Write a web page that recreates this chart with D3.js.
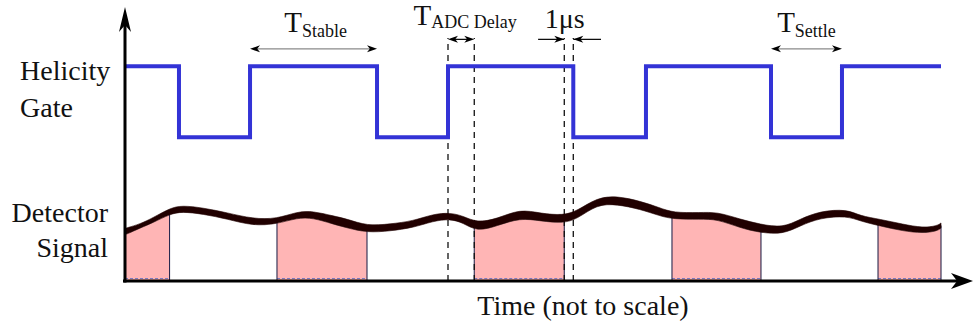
<!DOCTYPE html>
<html>
<head>
<meta charset="utf-8">
<script src="https://cdn.jsdelivr.net/npm/d3@7"></script>
<style>
  body { margin: 0; background: #fff; }
  text { font-family: "Liberation Serif", "Tinos", "DejaVu Serif", "Noto Serif", serif; fill: #111; }
</style>
</head>
<body>
<div id="chart"></div>
<script>
// time is in arbitrary units (not to scale), levels are arbitrary too
var gateEdges = [0, 6.35, 14.71, 29.65, 38.0, 52.74, 61.29, 76.0, 84.35, 96.0];
var gateStates = [1, 0, 1, 0, 1, 0, 1, 0, 1];
var gateHigh = 7.95, gateLow = 5.32;

var signalTime = [0, 0.24, 1.76, 3.29, 5.29, 6.71, 9.18, 12.0, 15.06, 17.88, 20.24, 22.12, 24.47, 26.12,
  28.47, 31.18, 33.88, 36.24, 38.24, 39.76, 41.41, 43.76, 46.47, 48.94, 51.53, 53.18, 55.53, 57.88,
  60.59, 62.94, 64.47, 67.65, 69.65, 72.35, 74.71, 77.41, 79.41, 81.76, 84.94, 86.47, 88.82, 91.53,
  93.88, 95.53, 96.0];
var signalTop = [1.95, 1.97, 2.11, 2.34, 2.70, 2.80, 2.71, 2.53, 2.30, 2.30, 2.57, 2.59, 2.41, 2.30,
  2.04, 2.11, 2.22, 2.48, 2.53, 2.41, 2.16, 2.30, 2.67, 2.50, 2.43, 2.59, 3.09, 3.15,
  2.96, 2.71, 2.53, 2.53, 2.56, 2.29, 2.10, 1.97, 2.29, 2.59, 2.66, 2.41, 2.29, 2.10,
  1.97, 2.04, 2.15];
var signalBottom = [1.72, 1.74, 1.96, 2.16, 2.48, 2.57, 2.48, 2.30, 2.04, 2.11, 2.34, 2.34, 2.11, 1.97,
  1.79, 1.85, 1.97, 2.22, 2.30, 2.16, 1.83, 2.04, 2.34, 2.22, 2.14, 2.29, 2.84, 2.84,
  2.66, 2.41, 2.29, 2.29, 2.29, 1.97, 1.79, 1.73, 2.04, 2.34, 2.41, 2.22, 2.04, 1.85,
  1.77, 1.85, 1.96];

// integration windows (pink)
var windowStart = [0, 17.88, 41.09, 64.35, 88.59];
var windowEnd = [5.24, 28.47, 51.68, 74.82, 96.0];

// dashed timing markers
var delayMarks = [38.0, 41.09, 51.68, 52.74];

var width = 974, height = 328;

var svg = d3.select("#chart").append("svg")
    .attr("width", width)
    .attr("height", height);

var x = d3.scaleLinear().domain([0, 100]).range([125, 975]);
var y = d3.scaleLinear().domain([0, 10]).range([281, 11]);

var signal = signalTime.map(function (t, i) {
    return { t: t, top: signalTop[i], bot: signalBottom[i] };
});

function bandMid(t) {
    var i = d3.bisector(function (d) { return d.t; }).left(signal, t);
    i = Math.max(1, Math.min(signal.length - 1, i));
    var a = signal[i - 1], b = signal[i];
    var f = (t - a.t) / (b.t - a.t);
    return ((a.top + a.bot) / 2) * (1 - f) + ((b.top + b.bot) / 2) * f;
}

var defs = svg.append("defs");
windowStart.forEach(function (s, i) {
    defs.append("clipPath").attr("id", "win" + i)
        .append("rect")
        .attr("x", x(s))
        .attr("y", 0)
        .attr("width", x(windowEnd[i]) - x(s))
        .attr("height", height);
});

// pink windows under the signal
var under = d3.area()
    .x(function (d) { return x(d.t); })
    .y0(y(0))
    .y1(function (d) { return y(d.bot); })
    .curve(d3.curveBasis);

windowStart.forEach(function (s, i) {
    svg.append("path")
        .datum(signal)
        .attr("clip-path", "url(#win" + i + ")")
        .attr("fill", "#ffb5b5")
        .attr("d", under);
    svg.append("line")
        .attr("x1", x(s)).attr("x2", x(windowEnd[i]))
        .attr("y1", y(0) - 2.5).attr("y2", y(0) - 2.5)
        .attr("stroke", "#7a7ac0")
        .attr("stroke-width", 1)
        .attr("stroke-dasharray", "3,2");
});

// window edges
var edges = windowStart.concat(windowEnd).filter(function (t) { return t > 0; });
svg.selectAll(".win-edge")
    .data(edges)
    .enter().append("line")
    .attr("class", "win-edge")
    .attr("x1", function (d) { return x(d); })
    .attr("x2", function (d) { return x(d); })
    .attr("y1", y(0))
    .attr("y2", function (d) { return y(bandMid(d)); })
    .attr("stroke", "#2a2a50")
    .attr("stroke-width", 1.1);

// dashed timing lines
svg.selectAll(".mark")
    .data(delayMarks)
    .enter().append("line")
    .attr("class", "mark")
    .attr("x1", function (d) { return x(d); })
    .attr("x2", function (d) { return x(d); })
    .attr("y1", y(0))
    .attr("y2", y(9.0))
    .attr("stroke", "#111")
    .attr("stroke-width", 1.3)
    .attr("stroke-dasharray", "6,5");

// detector signal band
var band = d3.area()
    .x(function (d) { return x(d.t); })
    .y0(function (d) { return y(d.bot); })
    .y1(function (d) { return y(d.top); })
    .curve(d3.curveBasis);

svg.append("path")
    .datum(signal)
    .attr("fill", "#200000")
    .attr("stroke", "#200000")
    .attr("stroke-width", 0.6)
    .attr("d", band);

// helicity gate
var gatePts = [];
gateStates.forEach(function (s, i) {
    var lv = s ? gateHigh : gateLow;
    gatePts.push([gateEdges[i], lv]);
    gatePts.push([gateEdges[i + 1], lv]);
});

svg.append("path")
    .datum(gatePts)
    .attr("fill", "none")
    .attr("stroke", "#3333d6")
    .attr("stroke-width", 4)
    .attr("stroke-linejoin", "miter")
    .attr("d", d3.line()
        .x(function (d) { return x(d[0]); })
        .y(function (d) { return y(d[1]); }));

// arrowheads
function arrowHead(tx, ty, angle, len, wid) {
    var p = d3.path();
    p.moveTo(0, 0);
    p.lineTo(-len, -wid / 2);
    p.lineTo(-len * 0.72, 0);
    p.lineTo(-len, wid / 2);
    p.closePath();
    svg.append("path")
        .attr("d", p.toString())
        .attr("transform", "translate(" + tx + "," + ty + ") rotate(" + angle + ")")
        .attr("fill", "#000");
}

// axes
var x0 = x.range()[0], xTip = x.range()[1] - 2;
var yBase = y(0), yTip = y.range()[1] - 4;
svg.append("line")
    .attr("x1", x0).attr("x2", x0)
    .attr("y1", yBase + 1.5).attr("y2", yTip + 10)
    .attr("stroke", "#000").attr("stroke-width", 3);
arrowHead(x0, yTip, -90, 25, 12);
svg.append("line")
    .attr("x1", x0 - 2).attr("x2", xTip - 10)
    .attr("y1", yBase).attr("y2", yBase)
    .attr("stroke", "#000").attr("stroke-width", 3);
arrowHead(xTip, yBase, 0, 22, 16);

// dimension arrows
function dimArrow(t1, t2, lv, color) {
    var yy = y(lv);
    svg.append("line")
        .attr("x1", x(t1) + 3).attr("x2", x(t2) - 3)
        .attr("y1", yy).attr("y2", yy)
        .attr("stroke", color).attr("stroke-width", 1.2);
    arrowHead(x(t1), yy, 180, 10, 7);
    arrowHead(x(t2), yy, 0, 10, 7);
}
dimArrow(14.71, 29.65, 8.6, "#8a8a8a");
dimArrow(76.0, 84.35, 8.6, "#8a8a8a");
dimArrow(38.0, 41.09, 8.95, "#000");

// 1 us: arrows pointing inward
[[48.6, 51.68, 0], [56.0, 52.74, 180]].forEach(function (a) {
    var yy = y(8.95);
    svg.append("line")
        .attr("x1", x(a[0])).attr("x2", x(a[1]))
        .attr("y1", yy).attr("y2", yy)
        .attr("stroke", "#000").attr("stroke-width", 1.2);
    arrowHead(x(a[1]), yy, a[2], 10, 7);
});

// annotation labels
function subLabel(cx, by, sub, dy) {
    var t = svg.append("text")
        .attr("x", cx).attr("y", by)
        .attr("text-anchor", "middle")
        .style("font-size", "29px");
    t.append("tspan").text("T");
    t.append("tspan").attr("dy", dy).style("font-size", "18px").text(sub);
}
subLabel((x(14.71) + x(29.65)) / 2 + 2, 32, "Stable", 5);
subLabel((x(38.0) + x(41.09)) / 2 + 4, 25, "ADC Delay", 3);
subLabel((x(76.0) + x(84.35)) / 2, 32, "Settle", 5);

svg.append("text")
    .attr("x", (x(51.68) + x(52.74)) / 2 - 4).attr("y", 28)
    .attr("text-anchor", "middle")
    .style("font-size", "28px")
    .text("1\u03bcs");

// row labels
svg.append("text").attr("x", 20).attr("y", 80).style("font-size", "28px").text("Helicity");
svg.append("text").attr("x", 20).attr("y", 117).style("font-size", "28px").text("Gate");
svg.append("text").attr("x", 108).attr("y", 222).attr("text-anchor", "end").style("font-size", "28px").text("Detector");
svg.append("text").attr("x", 108).attr("y", 257).attr("text-anchor", "end").style("font-size", "28px").text("Signal");

svg.append("text")
    .attr("x", 583).attr("y", 315)
    .attr("text-anchor", "middle")
    .style("font-size", "28px")
    .text("Time (not to scale)");
</script>
</body>
</html>
